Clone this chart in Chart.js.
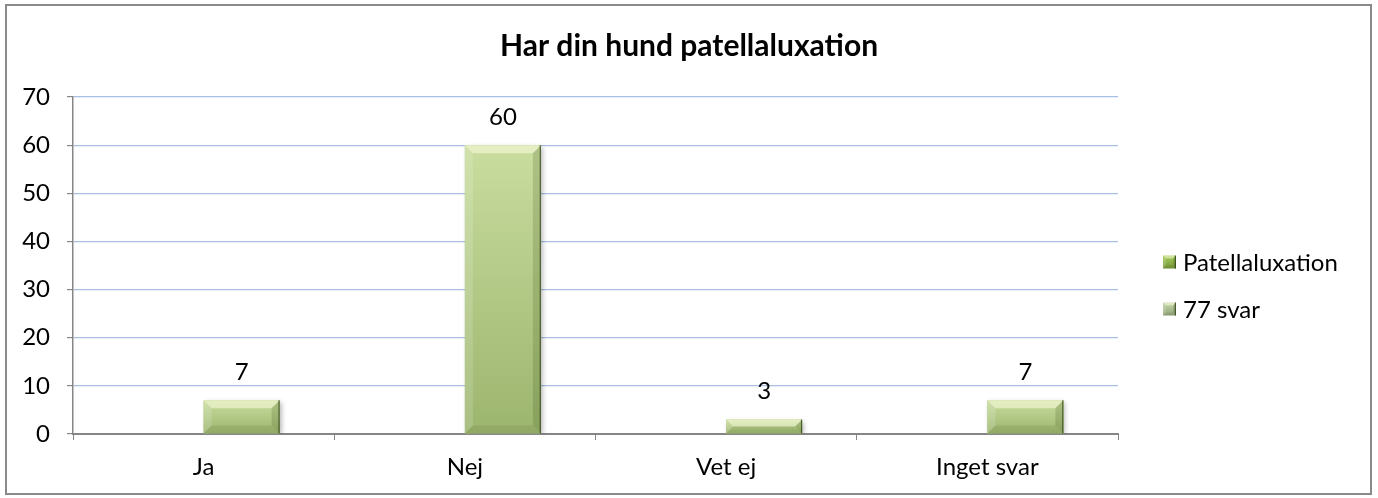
<!DOCTYPE html>
<html>
<head>
<meta charset="utf-8">
<script src="https://cdn.jsdelivr.net/npm/chart.js@4.4.1/dist/chart.umd.min.js"></script>
<style>
  html, body { margin: 0; padding: 0; background: #fff; }
  #wrap { width: 1378px; height: 498px; position: relative; }
</style>
</head>
<body>
<div id="wrap"><canvas id="chart" width="1378" height="498"></canvas></div>
<script>
const titleText = 'Har din hund patellaluxation';
const categories = ['Ja', 'Nej', 'Vet ej', 'Inget svar'];
const patellaValues = [null, null, null, null];
const svarValues = [7, 60, 3, 7];
const seriesNames = ['Patellaluxation', '77 svar'];
const yTicks = [0, 10, 20, 30, 40, 50, 60, 70];

const FONT = 'Lato, "Open Sans", sans-serif';

// ram runt hela diagrammet
const framePlugin = {
  id: 'frame',
  beforeDraw(chart) {
    const c = chart.ctx;
    c.save();
    c.fillStyle = '#fff';
    c.fillRect(0, 0, chart.width, chart.height);
    c.strokeStyle = '#8a8a8a';
    c.lineWidth = 2;
    c.strokeRect(6, 5, 1365, 489);
    c.restore();
  }
};

// skugga under staplarna
const shadowPlugin = {
  id: 'barShadow',
  beforeDatasetDraw(chart, args) {
    if (args.index !== 1) return;
    const c = chart.ctx;
    c.save();
    c.shadowColor = 'rgba(0,0,0,0.3)';
    c.shadowBlur = 5;
    c.shadowOffsetX = 2;
    c.shadowOffsetY = 2;
  },
  afterDatasetDraw(chart, args) {
    if (args.index !== 1) return;
    chart.ctx.restore();
  }
};

function bevelBox(c, left, top, right, bottom, light, dark, bev) {
  const g = c.createLinearGradient(0, top, 0, bottom);
  g.addColorStop(0, light);
  g.addColorStop(1, dark);
  c.fillStyle = g;
  c.fillRect(left, top, right - left, bottom - top);
  // topp
  c.fillStyle = 'rgba(255,255,230,0.5)';
  c.beginPath();
  c.moveTo(left, top); c.lineTo(right, top);
  c.lineTo(right - bev, top + bev); c.lineTo(left + bev, top + bev);
  c.closePath(); c.fill();
  // vänster
  c.fillStyle = 'rgba(255,255,255,0.15)';
  c.beginPath();
  c.moveTo(left, top); c.lineTo(left + bev, top + bev);
  c.lineTo(left + bev, bottom - bev); c.lineTo(left, bottom);
  c.closePath(); c.fill();
  // höger
  c.fillStyle = 'rgba(50,70,15,0.18)';
  c.beginPath();
  c.moveTo(right, top); c.lineTo(right - bev, top + bev);
  c.lineTo(right - bev, bottom - bev); c.lineTo(right, bottom);
  c.closePath(); c.fill();
  // botten
  c.fillStyle = 'rgba(50,70,15,0.1)';
  c.beginPath();
  c.moveTo(left, bottom); c.lineTo(right, bottom);
  c.lineTo(right - bev, bottom - bev); c.lineTo(left + bev, bottom - bev);
  c.closePath(); c.fill();
  // mörk högerkant
  c.fillStyle = 'rgba(40,55,15,0.7)';
  c.fillRect(right - 1.2, top, 1.2, bottom - top);
}

// bevel-effekt och värdeetiketter
const bevelPlugin = {
  id: 'bevel',
  afterDatasetsDraw(chart) {
    const c = chart.ctx;
    const meta = chart.getDatasetMeta(1);
    c.save();
    meta.data.forEach((bar, i) => {
      const p = bar.getProps(['x', 'y', 'base', 'width'], true);
      const left = p.x - p.width / 2, right = p.x + p.width / 2;
      const top = p.y, bottom = p.base;
      const bev = Math.min(8, (bottom - top) / 2);
      bevelBox(c, left, top, right, bottom, '#c9dd9f', '#9cb56e', bev);
      c.fillStyle = '#000';
      c.font = '24px ' + FONT;
      c.textAlign = 'center';
      c.textBaseline = 'middle';
      c.fillText(String(svarValues[i]), p.x, top - 28);
    });
    c.restore();
  }
};

// legend till höger
const legendPlugin = {
  id: 'sideLegend',
  afterDraw(chart) {
    const c = chart.ctx;
    const x = chart.chartArea.right + 45;
    const ys = [262, 309];
    const cols = [['#a4cc58', '#76983a'], ['#c2d2a6', '#95a87b']];
    c.save();
    chart.data.datasets.forEach((ds, i) => {
      const y = ys[i];
      bevelBox(c, x, y - 6.5, x + 13, y + 6.5, cols[i][0], cols[i][1], 3);
      c.fillStyle = '#000';
      c.font = '24px ' + FONT;
      c.textAlign = 'left';
      c.textBaseline = 'middle';
      c.fillText(ds.label, x + 20, y + 1);
    });
    c.restore();
  }
};

new Chart(document.getElementById('chart'), {
  type: 'bar',
  data: {
    labels: categories,
    datasets: [
      { label: seriesNames[0], data: patellaValues, backgroundColor: '#9bbb59' },
      { label: seriesNames[1], data: svarValues, backgroundColor: '#b5cc88' }
    ]
  },
  options: {
    responsive: false,
    animation: false,
    events: [],
    barPercentage: 1,
    categoryPercentage: 0.582,
    layout: { padding: 0 },
    plugins: {
      legend: { display: false },
      tooltip: { enabled: false },
      title: {
        display: true,
        text: titleText,
        color: '#000',
        font: { family: FONT, size: 30, weight: 'bold' },
        padding: { top: 28, bottom: 33 }
      }
    },
    scales: {
      x: {
        grid: { display: true, drawOnChartArea: false, offset: true, tickLength: 6, tickColor: '#868686' },
        border: { color: '#868686', width: 2 },
        ticks: { color: '#000', padding: 13, font: { family: FONT, size: 24 } },
        afterFit(scale) { scale.height = 64; }
      },
      y: {
        min: 0,
        max: 70,
        afterBuildTicks(scale) { scale.ticks = yTicks.map(v => ({ value: v })); },
        grid: { color: '#a9c0e4', lineWidth: 1.2, tickLength: 6, tickColor: '#868686' },
        border: { color: '#868686', width: 1.5 },
        ticks: { color: '#000', padding: 17, font: { family: FONT, size: 24 } },
        afterFit(scale) { scale.width = 73; }
      },
      // tom axel som reserverar plats för legenden
      legendSpace: {
        position: 'right',
        min: 0,
        max: 70,
        grid: { display: false },
        border: { display: false },
        ticks: { display: false },
        afterFit(scale) { scale.width = 260; }
      }
    }
  },
  plugins: [framePlugin, shadowPlugin, bevelPlugin, legendPlugin]
});
</script>
</body>
</html>
